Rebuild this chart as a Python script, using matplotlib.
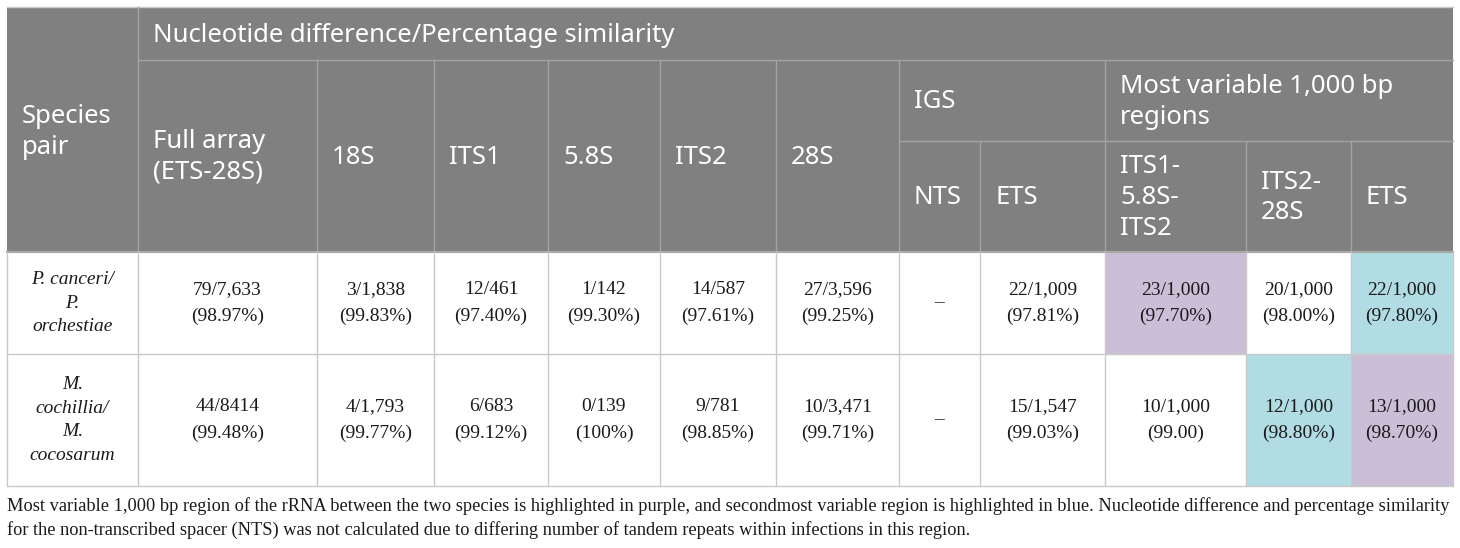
import matplotlib
matplotlib.use("Agg")
import matplotlib.pyplot as plt
from matplotlib.patches import Rectangle

# ---------------- data ----------------
header_top = "Nucleotide difference/Percentage similarity"
row_header = "Species\npair"
col_labels = ["Full array\n(ETS-28S)", "18S", "ITS1", "5.8S", "ITS2", "28S"]
igs_label = "IGS"
igs_sub = ["NTS", "ETS"]
mv_label = "Most variable 1,000 bp\nregions"
mv_sub = ["ITS1-\n5.8S-\nITS2", "ITS2-\n28S", "ETS"]

species = ["P. canceri/\nP.\norchestiae", "M.\ncochillia/\nM.\ncocosarum"]
values = [
    ["79/7,633\n(98.97%)", "3/1,838\n(99.83%)", "12/461\n(97.40%)", "1/142\n(99.30%)",
     "14/587\n(97.61%)", "27/3,596\n(99.25%)", "–", "22/1,009\n(97.81%)",
     "23/1,000\n(97.70%)", "20/1,000\n(98.00%)", "22/1,000\n(97.80%)"],
    ["44/8414\n(99.48%)", "4/1,793\n(99.77%)", "6/683\n(99.12%)", "0/139\n(100%)",
     "9/781\n(98.85%)", "10/3,471\n(99.71%)", "–", "15/1,547\n(99.03%)",
     "10/1,000\n(99.00)", "12/1,000\n(98.80%)", "13/1,000\n(98.70%)"],
]
highlight = [
    [None] * 8 + ["purple", None, "blue"],
    [None] * 8 + [None, "blue", "purple"],
]
footnote_lines = [
    "Most variable 1,000 bp region of the rRNA between the two species is highlighted in purple, "
    "and secondmost variable region is highlighted in blue. Nucleotide difference and percentage similarity",
    "for the non-transcribed spacer (NTS) was not calculated due to differing number of tandem "
    "repeats within infections in this region.",
]

# ---------------- layout ----------------
W, H = 1460, 548
xs = [7, 138, 317, 434, 548, 660, 776, 899, 980, 1105, 1246, 1351, 1453]
y_top, y_h1, y_h2, y_hb = 7, 60, 141, 251
row_edges = [252, 354, 486]

HDR = "#808080"
HDR_LINE = "#a3a3a3"
BODY_LINE = "#c9c9c9"
COLORS = {"purple": "#cbbfd8", "blue": "#b2dce4"}

fig = plt.figure(figsize=(W / 100, H / 100), dpi=100)
ax = fig.add_axes([0, 0, 1, 1])
ax.set_xlim(0, W)
ax.set_ylim(H, 0)
ax.axis("off")

# header background
ax.add_patch(Rectangle((xs[0], y_top), xs[-1] - xs[0], y_hb - y_top, color=HDR, lw=0, zorder=1))

# body highlights
for r in range(len(values)):
    for c in range(len(values[r])):
        h = highlight[r][c]
        if h:
            ax.add_patch(Rectangle((xs[c + 1], row_edges[r]), xs[c + 2] - xs[c + 1],
                                   row_edges[r + 1] - row_edges[r], color=COLORS[h], lw=0, zorder=1))

# header lines
lw = 1.0
ax.plot([xs[0], xs[-1]], [y_top, y_top], color="#c8c8c8", lw=lw, zorder=3)
ax.plot([xs[1], xs[1]], [y_top, y_hb], color=HDR_LINE, lw=lw, zorder=3)
ax.plot([xs[1], xs[-1]], [y_h1, y_h1], color=HDR_LINE, lw=lw, zorder=3)
for x in xs[2:8] + [xs[9]]:
    ax.plot([x, x], [y_h1, y_hb], color=HDR_LINE, lw=lw, zorder=3)
ax.plot([xs[7], xs[-1]], [y_h2, y_h2], color=HDR_LINE, lw=lw, zorder=3)
for x in [xs[8], xs[10], xs[11]]:
    ax.plot([x, x], [y_h2, y_hb], color=HDR_LINE, lw=lw, zorder=3)
ax.plot([xs[0], xs[-1]], [y_hb + 0.5, y_hb + 0.5], color="#a8a8a8", lw=1.6, zorder=3)

# body lines
for x in xs:
    ax.plot([x, x], [row_edges[0], row_edges[-1]], color=BODY_LINE, lw=lw, zorder=3)
for y in row_edges[1:]:
    ax.plot([xs[0], xs[-1]], [y, y], color=BODY_LINE, lw=lw, zorder=3)

# header text
HF = dict(family="Noto Sans", color="white", fontsize=18.5, va="center", ha="left",
          linespacing=1.31, zorder=4)
pad = 15
ax.text(xs[0] + pad, (y_top + y_hb) / 2 + 3, row_header, **HF)
ax.text(xs[1] + pad, (y_top + y_h1) / 2 + 1.5, header_top, **HF)
for i, lab in enumerate(col_labels):
    ax.text(xs[i + 1] + pad, (y_h1 + y_hb) / 2 + 1.5, lab, **HF)
ax.text(xs[7] + pad, (y_h1 + y_h2) / 2 + 1.5, igs_label, **HF)
ax.text(xs[9] + pad, (y_h1 + y_h2) / 2 + 1.5, mv_label, **HF)
for i, lab in enumerate(igs_sub):
    ax.text(xs[7 + i] + pad, (y_h2 + y_hb) / 2 + 1.5, lab, **HF)
for i, lab in enumerate(mv_sub):
    ax.text(xs[9 + i] + pad, (y_h2 + y_hb) / 2 + 1.5, lab, **HF)

# body text
BF = dict(family="Liberation Serif", color="#1a1a1a", fontsize=14.0, va="center", ha="center",
          linespacing=1.66, zorder=4)
for r in range(len(values)):
    yc = (row_edges[r] + row_edges[r + 1]) / 2
    ax.text((xs[0] + xs[1]) / 2, yc, species[r], style="italic",
            **{**BF, "linespacing": 1.52})
    for c, v in enumerate(values[r]):
        ax.text((xs[c + 1] + xs[c + 2]) / 2, yc, v, **BF)

# footnote (first line fitted to table width)
fs = 13.3
t1 = ax.text(xs[0], 506, footnote_lines[0], family="Liberation Serif", color="#1a1a1a",
             fontsize=fs, va="center", ha="left", zorder=4)
fig.canvas.draw()
w = t1.get_window_extent().width
fs = fs * (xs[-1] - xs[0]) / w
t1.set_fontsize(fs)
ax.text(xs[0], 530, footnote_lines[1], family="Liberation Serif", color="#1a1a1a",
        fontsize=fs, va="center", ha="left", zorder=4)

fig.savefig("out.png", dpi=100)
